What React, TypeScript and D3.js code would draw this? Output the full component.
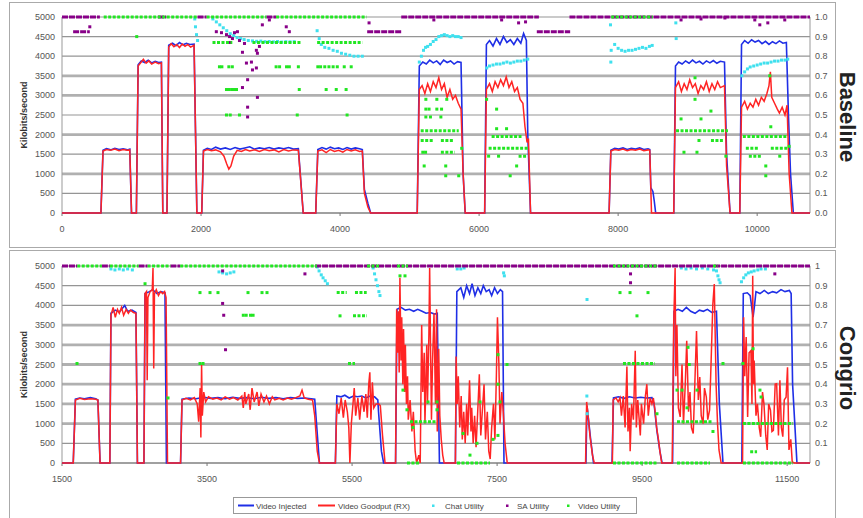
import React from 'react';
import * as d3 from 'd3';

type Pt = [number, number];
type Run = [number, number, number];

// ---------- Baseline (top) ----------
const baseInjected: Pt[] = [
  [0,0],[560,0],[590,1600],[640,1640],[700,1610],[760,1650],[820,1620],[880,1640],[940,1610],[975,1630],[1000,0],
  [1070,0],[1095,3780],[1140,3880],[1190,3840],[1240,3900],[1290,3830],[1340,3870],[1390,3840],[1430,3850],[1450,0],
  [1510,0],[1535,4280],[1590,4330],[1640,4270],[1690,4350],[1740,4290],[1790,4330],[1840,4300],[1900,4310],[1940,0],
  [2010,0],[2035,1600],[2090,1650],[2150,1620],[2210,1680],[2280,1630],[2350,1660],[2420,1620],[2490,1670],[2560,1630],[2630,1660],[2700,1690],[2770,1630],[2840,1660],[2910,1640],[2980,1670],[3050,1630],[3120,1660],[3190,1640],[3260,1670],[3330,1630],[3400,1640],[3470,0],
  [3650,0],[3680,1620],[3740,1670],[3800,1630],[3860,1680],[3920,1640],[3980,1660],[4040,1620],[4100,1670],[4160,1630],[4220,1660],[4280,1640],[4320,1620],[4350,600],[4400,250],[4440,0],
  [5110,0],[5140,3750],[5190,3850],[5240,3800],[5290,3900],[5340,3830],[5390,3880],[5440,3790],[5490,3900],[5540,3840],[5590,3880],[5640,3800],[5690,3860],[5740,3840],[5770,1000],[5800,0],
  [6080,0],[6105,4300],[6150,4400],[6200,4260],[6250,4450],[6300,4300],[6350,4500],[6400,4350],[6450,4420],[6500,4300],[6550,4450],[6600,4330],[6640,4580],[6680,4400],[6700,2000],[6740,0],
  [7870,0],[7895,1600],[7950,1650],[8010,1630],[8070,1660],[8130,1620],[8190,1650],[8250,1630],[8310,1660],[8370,1620],[8430,1640],[8455,1620],[8470,650],[8500,550],[8520,300],[8540,0],
  [8800,0],[8825,3750],[8870,3850],[8920,3800],[8970,3880],[9020,3820],[9070,3900],[9120,3830],[9170,3870],[9220,3800],[9270,3880],[9320,3830],[9370,3890],[9420,3820],[9470,3870],[9530,3850],[9560,1500],[9610,0],
  [9750,0],[9775,4300],[9820,4400],[9870,4330],[9920,4420],[9970,4360],[10020,4400],[10070,4320],[10120,4380],[10170,4300],[10220,4370],[10270,4320],[10320,4390],[10370,4330],[10420,4350],[10450,2500],[10480,1000],[10520,0],[10760,0],
];

const baseGoodput: Pt[] = [
  [0,0],[560,0],[590,1580],[640,1620],[700,1600],[760,1630],[820,1590],[880,1620],[940,1600],[975,1610],[1000,0],
  [1070,0],[1095,3750],[1140,3850],[1170,3920],[1210,3820],[1250,3880],[1290,3800],[1340,3850],[1390,3810],[1430,3830],[1450,0],
  [1510,0],[1535,4230],[1570,4320],[1610,4240],[1650,4300],[1690,4220],[1730,4310],[1770,4250],[1810,4300],[1850,4230],[1900,4280],[1940,0],
  [2010,0],[2035,1580],[2090,1620],[2150,1590],[2210,1610],[2280,1560],[2330,1450],[2370,1250],[2400,1120],[2430,1200],[2470,1450],[2520,1600],[2580,1570],[2640,1620],[2700,1580],[2770,1610],[2840,1570],[2910,1620],[2980,1590],[3050,1610],[3120,1560],[3190,1620],[3260,1580],[3330,1610],[3400,1600],[3470,0],
  [3650,0],[3680,1580],[3740,1610],[3800,1540],[3860,1620],[3920,1570],[3980,1600],[4040,1550],[4100,1620],[4160,1580],[4220,1610],[4280,1570],[4320,1580],[4350,500],[4400,150],[4440,0],
  [5110,0],[5140,3150],[5180,3250],[5220,3050],[5260,3300],[5300,3100],[5340,3350],[5380,3200],[5420,3450],[5460,3150],[5500,3300],[5540,2950],[5580,3150],[5620,2900],[5660,3000],[5700,2800],[5740,2650],[5770,1000],[5800,0],
  [6080,0],[6105,3150],[6150,3300],[6190,3100],[6230,3350],[6270,3200],[6310,3400],[6350,3250],[6390,3470],[6430,3200],[6470,3350],[6510,3100],[6550,3200],[6590,2900],[6630,2800],[6660,2200],[6690,1800],[6710,1900],[6740,0],
  [7870,0],[7895,1580],[7950,1620],[8010,1600],[8070,1630],[8130,1590],[8190,1620],[8250,1600],[8310,1630],[8370,1590],[8430,1610],[8455,1600],[8480,0],
  [8800,0],[8825,3200],[8870,3350],[8910,3100],[8950,3300],[8990,3150],[9030,3400],[9070,3200],[9110,3300],[9150,3050],[9190,3250],[9230,3150],[9270,3350],[9310,3100],[9350,3300],[9390,3150],[9430,3350],[9470,3200],[9530,3250],[9560,1200],[9610,0],
  [9750,0],[9775,2700],[9820,2850],[9860,2650],[9900,2800],[9940,2700],[9980,2900],[10020,2750],[10060,2950],[10100,2850],[10140,3050],[10170,3250],[10190,3600],[10210,2950],[10250,2800],[10290,2650],[10320,2550],[10360,2700],[10400,2500],[10430,2750],[10460,1000],[10500,0],[10760,0],
];

const baseChat: Pt[] = [
  [1910,0.99],[1920,0.95],[1935,0.91],[1950,0.88],
  [2170,0.99],[2220,0.975],[2270,0.96],[2320,0.945],[2370,0.93],[2420,0.915],[2470,0.905],[2520,0.895],[2570,0.89],[2620,0.885],[2680,0.88],[2740,0.878],[2800,0.876],[2860,0.877],[2920,0.874],[2980,0.875],[3040,0.873],[3100,0.875],[3160,0.872],[3220,0.874],[3280,0.873],[3340,0.874],
  [3670,0.93],[3700,0.89],[3730,0.86],[3780,0.845],[3840,0.84],[3900,0.83],[3960,0.825],[4020,0.815],[4080,0.81],[4140,0.805],[4200,0.80],[4260,0.80],[4320,0.80],
  [5140,0.77],[5170,0.80],[5200,0.83],[5230,0.845],[5260,0.85],[5300,0.86],[5340,0.875],[5380,0.885],[5420,0.90],[5460,0.905],[5500,0.91],[5540,0.905],[5580,0.90],[5620,0.905],[5660,0.90],[5700,0.90],[5740,0.895],
  [6110,0.74],[6150,0.75],[6200,0.755],[6250,0.76],[6300,0.76],[6350,0.765],[6400,0.77],[6450,0.765],[6500,0.77],[6550,0.775],[6600,0.775],[6650,0.78],[6700,0.785],
  [7890,0.96],[7895,0.77],[7900,0.83],[7950,0.86],[8000,0.84],[8050,0.83],[8100,0.825],[8150,0.83],[8200,0.83],[8250,0.835],[8300,0.84],[8350,0.845],[8400,0.84],[8450,0.85],[8490,0.855],
  [8830,0.97],[8835,0.89],
  [9780,0.70],[9820,0.72],[9860,0.735],[9900,0.745],[9950,0.75],[10000,0.755],[10050,0.76],[10100,0.765],[10150,0.765],[10200,0.77],[10250,0.775],[10300,0.775],[10350,0.78],[10400,0.78],[10440,0.785],
];

const baseSaRuns: Run[] = [
  [0,545,1.0],[1380,1500,1.0],[1950,2080,1.0],[2940,3080,1.0],[4880,6860,1.0],[7300,10760,1.0],
  [160,400,0.925],[4390,4880,0.925],[6830,7310,0.925],
];

const baseSa: Pt[] = [
  [400,0.95],[2220,0.925],[2294,0.92],[2366,0.91],[2410,0.90],[2452,0.89],[2481,0.92],[2524,0.925],[2553,0.88],[2410,0.87],[2625,0.865],[2796,0.83],[2811,0.815],
  [2596,0.82],[2653,0.765],[2725,0.77],[2740,0.73],[2796,0.74],[2670,0.68],[2596,0.64],[2811,0.59],[2670,0.54],[2670,0.49],[2840,0.85],[2882,0.96],[2983,0.985],[3226,0.95],[3270,0.925],
  [4417,0.97],[5349,0.985],[6324,0.985],[6568,0.97],[6668,0.975],
  [8905,0.985],[9192,0.99],[9536,0.995],[9966,0.985],[10038,0.96],[10153,0.97],[10397,0.985],
];

const baseVideoRuns: Run[] = [
  [600,1950,1.0],[2080,2940,1.0],[3080,4380,1.0],[7900,8500,1.0],
  [2165,2450,0.87],[2740,3440,0.87],[3670,4320,0.87],
  [5160,5707,0.42],[5160,5350,0.37],[5450,5640,0.37],[5450,5650,0.31],
  [6180,6610,0.39],[6137,6711,0.33],[6568,6690,0.29],
  [8833,9580,0.42],[9335,9507,0.37],
  [9794,10440,0.39],[9837,10010,0.33],[10196,10440,0.33],[9880,10060,0.29],
];

const baseVideo: Pt[] = [
  [1075,0.9],
  [2265,0.746],[2300,0.746],[2400,0.746],[2450,0.746],[3080,0.746],[3130,0.746],[3230,0.746],[3270,0.746],[3400,0.746],
  [3680,0.746],[3720,0.746],[3780,0.746],[3840,0.746],[3900,0.746],[3960,0.746],[4060,0.746],[4160,0.746],
  [2366,0.63],[2400,0.63],[2440,0.63],[2480,0.63],[2510,0.63],[3413,0.63],[3800,0.63],[3945,0.63],[4087,0.63],
  [2366,0.5],[2420,0.5],[2553,0.5],[3384,0.5],[4101,0.5],
  [5234,0.58],[5392,0.58],[5535,0.58],[5234,0.53],[5280,0.53],[5392,0.53],[5460,0.53],[5234,0.49],[5300,0.49],[5450,0.49],
  [5190,0.31],[5230,0.31],[5210,0.24],[5520,0.24],[5520,0.19],[5707,0.19],[5750,0.33],
  [6108,0.58],[6252,0.53],[6252,0.43],[6395,0.43],[6137,0.29],[6280,0.29],[6540,0.24],[6447,0.19],
  [9106,0.69],[9106,0.58],[9335,0.52],[8905,0.48],[9192,0.48],[9163,0.37],[8947,0.31],[9134,0.31],[9550,0.29],
  [10181,0.70],[10196,0.44],[10325,0.29],[10124,0.24],[10124,0.19],[10460,0.34],
];

// ---------- Congrio (bottom) ----------
const congInjected: Pt[] = [
  [1500,0],[1655,0],[1685,1620],[1745,1650],[1810,1630],[1890,1660],[1965,1630],[1995,1600],[2025,0],
  [2160,0],[2175,3800],[2235,3880],[2290,3830],[2365,4000],[2405,3850],[2465,3880],[2520,3820],[2540,0],
  [2630,0],[2645,4300],[2705,4350],[2750,4400],[2810,4300],[2865,4350],[2920,4320],[2940,0],
  [3135,0],[3155,1620],[3250,1650],[3350,1630],[3450,1670],[3550,1640],[3650,1660],[3750,1630],[3850,1670],[3950,1640],[4050,1660],[4150,1630],[4250,1670],[4350,1640],[4450,1660],[4550,1630],[4650,1660],[4750,1640],[4850,1650],[4985,1620],[5050,0],
  [5270,0],[5290,1700],[5350,1680],[5400,1720],[5460,1650],[5520,1700],[5575,1680],[5635,1700],[5690,1650],[5750,1700],[5810,1680],[5855,1600],[5865,1300],[5905,300],[5935,0],
  [6100,0],[6120,3900],[6175,3950],[6235,3880],[6290,3900],[6350,3850],[6405,3900],[6465,3850],[6520,3800],[6580,3820],[6640,3780],[6675,3800],[6705,0],
  [6925,0],[6945,4350],[7000,4450],[7040,4200],[7080,4500],[7120,4300],[7155,4550],[7195,4250],[7235,4450],[7275,4300],[7310,4500],[7350,4350],[7390,4400],[7425,4250],[7465,4450],[7505,4300],[7545,4400],[7575,4350],[7595,0],
  [8725,0],[8740,1450],[8755,1200],[8790,600],[8830,0],
  [9085,0],[9105,1650],[9175,1680],[9250,1640],[9325,1680],[9405,1650],[9480,1670],[9560,1650],[9635,1660],[9665,1500],[9705,800],[9745,300],[9775,0],
  [9920,0],[9940,3850],[9995,3900],[10055,3850],[10110,3950],[10170,3850],[10230,3800],[10290,3880],[10345,3850],[10400,3900],[10460,3820],[10525,3850],[10565,1500],[10615,0],
  [10875,0],[10895,4300],[10950,4320],[10990,4250],[11030,3700],[11050,4000],[11070,4350],[11125,4300],[11185,4380],[11240,4300],[11300,4350],[11355,4320],[11415,4400],[11470,4350],[11530,4380],[11555,4300],[11575,2000],[11605,1000],[11635,0],[11815,0],
];

const congGoodput: Pt[] = [
  [1500,0],[1655,0],[1685,1600],[1745,1640],[1810,1610],[1890,1630],[1965,1620],[1995,1600],[2025,0],
  [2160,0],[2175,3750],[2205,3950],[2235,3700],[2265,3900],[2290,3800],[2320,3950],[2350,3750],[2385,3900],[2415,3800],[2445,3880],[2485,3820],[2520,3800],[2540,0],
  [2630,0],[2645,4300],[2665,4350],[2675,2100],[2685,4200],[2715,4350],[2745,4400],[2755,4950],[2765,2400],[2775,4300],[2800,4400],[2830,4250],[2860,4350],[2890,4300],[2915,4350],[2935,4200],[2955,0],
  [3135,0],[3155,1600],[3210,1640],[3270,1600],[3325,1660],[3365,1500],[3385,1050],[3405,1900],[3415,650],[3425,2500],[3435,1200],[3455,1800],[3480,1550],[3520,1680],[3580,1620],[3635,1650],[3695,1600],[3750,1680],[3810,1620],[3865,1660],[3925,1600],[3980,1700],[4000,1400],[4020,1800],[4035,1500],[4075,1750],[4095,1350],[4120,1900],[4150,1550],[4190,1800],[4215,1450],[4245,1750],[4285,1550],[4320,1700],[4360,1500],[4400,1680],[4435,1600],[4495,1640],[4550,1600],[4610,1650],[4665,1620],[4725,1660],[4780,1700],[4810,1850],[4840,1650],[4895,1620],[4955,1600],[4985,1200],[5020,300],[5050,0],
  [5270,0],[5290,1500],[5320,1250],[5350,1650],[5380,1150],[5405,1600],[5435,1300],[5455,900],[5470,0],[5490,1000],[5515,1550],[5530,1900],[5550,1200],[5580,1650],[5605,1100],[5635,1700],[5665,1300],[5690,1750],[5710,1150],[5730,2000],[5745,2300],[5760,1100],[5780,2050],[5800,1400],[5830,1500],[5870,1500],[5890,1450],[5920,700],[5955,0],
  [6100,0],[6115,3900],[6130,2800],[6140,3850],[6150,2300],[6160,4700],[6175,2600],[6185,3700],[6200,2000],[6210,3400],[6225,1800],[6235,3000],[6250,1500],[6265,2200],[6275,1100],[6300,1600],[6325,800],[6345,1300],[6370,300],[6390,0],[6420,200],[6440,0],[6460,3500],[6475,1800],[6495,2800],[6505,1000],[6530,3000],[6540,1500],[6560,3300],[6570,4950],[6585,2500],[6595,1100],[6610,2600],[6630,3800],[6650,1500],[6665,3900],[6675,800],[6695,2900],[6710,1200],[6730,600],[6750,200],[6770,0],
  [6925,0],[6935,2700],[6950,1500],[6965,2200],[6985,900],[7005,1700],[7020,600],[7040,1300],[7060,500],[7080,1500],[7095,700],[7120,2100],[7140,800],[7150,1400],[7170,500],[7190,1200],[7210,400],[7240,1600],[7255,2250],[7275,700],[7320,2000],[7340,600],[7365,1300],[7385,300],[7405,100],[7425,900],[7450,1500],[7470,600],[7490,2200],[7505,3700],[7525,2500],[7540,1000],[7565,1800],[7585,1300],[7610,500],[7640,0],
  [8720,0],[8735,1550],[8750,1300],[8780,700],[8815,200],[8840,0],
  [9090,0],[9100,1600],[9140,1650],[9170,1550],[9195,1650],[9215,1200],[9240,1700],[9265,900],[9290,2450],[9305,800],[9325,1400],[9335,300],[9355,1500],[9380,1100],[9405,2850],[9420,900],[9440,1600],[9475,700],[9490,1500],[9520,1000],[9545,1700],[9565,2000],[9585,1200],[9610,1650],[9635,1500],[9655,1650],[9680,1300],[9700,900],[9725,600],[9745,300],[9770,0],
  [9915,0],[9935,3500],[9955,4950],[9965,2200],[9980,3500],[10000,1400],[10025,1170],[10050,2500],[10070,1000],[10095,2000],[10115,3100],[10140,1300],[10160,1800],[10180,900],[10205,750],[10230,2200],[10250,3350],[10275,1600],[10295,2180],[10315,1200],[10340,1000],[10360,1900],[10385,1680],[10405,1100],[10430,1340],[10450,2500],[10475,4030],[10495,4540],[10520,2000],[10540,1000],[10560,330],[10590,0],
  [10885,0],[10900,3700],[10915,2200],[10935,3200],[10955,1170],[10975,2800],[11000,2850],[11015,1500],[11025,4750],[11035,2000],[11045,2600],[11070,1200],[11090,1500],[11115,900],[11135,665],[11160,1800],[11180,1500],[11205,700],[11225,330],[11245,1500],[11270,1340],[11290,800],[11310,830],[11335,2000],[11355,2010],[11380,700],[11400,2100],[11420,900],[11440,670],[11460,1600],[11485,1670],[11505,2430],[11525,330],[11550,600],[11570,30],[11600,0],[11815,0],
];

const congChat: Pt[] = [
  [2175,0.985],[2230,0.98],[2290,0.985],[2345,0.98],[2405,0.985],[2470,0.98],
  [3665,0.97],[3715,0.965],[3770,0.96],[3820,0.965],[3870,0.97],
  [5020,0.995],[5045,0.975],[5075,0.955],[5100,0.94],[5130,0.925],[5160,0.91],
  [5790,0.99],[5810,0.96],[5830,0.93],[5850,0.90],[5870,0.87],[5885,0.85],
  [6950,0.985],[7000,0.985],[7045,0.99],[7590,0.965],[7600,0.95],
  [8740,0.83],[8738,0.34],[8742,0.25],
  [10040,0.99],[10105,0.985],[10175,0.99],[10250,0.985],[10330,0.99],[10405,0.985],[10485,0.98],[10525,0.975],[10545,0.95],[10560,0.93],[10575,0.915],
  [10870,0.92],[10900,0.94],[10930,0.955],[10965,0.965],[11005,0.97],[11045,0.975],[11095,0.98],[11140,0.985],[11200,0.985],
];

const congSaRuns: Run[] = [
  [1500,1710,1.0],[2050,2160,1.0],[2555,2680,1.0],[2995,3130,1.0],[4990,11815,1.0],
];

const congSa: Pt[] = [
  [3715,0.975],[3715,0.81],[3730,0.75],[3755,0.575],[4850,0.96],[9340,0.96],[9340,0.915],[11330,0.96],
];

const congVideoRuns: Run[] = [
  [1710,2050,1.0],[2160,2555,1.0],[2680,2995,1.0],[3130,5016,1.0],[5706,5885,1.0],[6120,6271,1.0],[9098,9705,1.0],[10477,10546,1.0],
  [6257,6437,0],[6947,7402,0],[9098,9705,0],[9981,10436,0],[10890,11580,0],
  [5288,5426,0.865],[5540,5702,0.865],[5513,5706,0.747],[5444,5540,0.505],
  [6299,6671,0.21],[9236,9677,0.505],[9981,10477,0.21],[10890,11580,0.2],[10990,11085,0.057],
];

const congVideo: Pt[] = [
  [1707,0.505],[3403,0.505],[3445,0.505],[2962,0.33],[2645,0.91],
  [3403,0.865],[3541,0.865],[3651,0.865],[4065,0.865],[4258,0.865],[4327,0.865],
  [4000,0.75],[4040,0.75],[4100,0.75],[4135,0.75],[5334,0.747],
  [6161,0.95],[6230,0.95],[6202,0.37],[6257,0.27],[6547,0.31],[6671,0.31],[6671,0.27],[6340,0.18],
  [7030,0.15],[7126,0.04],[7223,0.1],[7265,0.31],[7444,0.12],[7512,0.55],[7512,0.4],[7540,0.31],[7637,0.5],[7512,0.14],
  [9195,0.865],[9333,0.865],[9581,0.865],[9429,0.747],[9705,0.25],
  [9981,0.37],[10257,0.37],[10050,0.37],[10133,0.587],[10150,0.5],[10615,0.505],[10477,0.16],[10119,0.28],
  [11125,0.37],[11030,0.58],[11140,0.335],[10890,0.505],
];

// ---------- axes & labels ----------
const leftTicks = [0, 500, 1000, 1500, 2000, 2500, 3000, 3500, 4000, 4500, 5000];
const baseXTicks = [0, 2000, 4000, 6000, 8000, 10000];
const congXTicks = [1500, 3500, 5500, 7500, 9500, 11500];
const baseRightLabels = ['0.0', '0.1', '0.2', '0.3', '0.4', '0.5', '0.6', '0.7', '0.8', '0.9', '1.0'];
const congRightLabels = ['0', '0.1', '0.2', '0.3', '0.4', '0.5', '0.6', '0.7', '0.8', '0.9', '1'];
const legendNames = ['Video Injected', 'Video Goodput (RX)', 'Chat Utility', 'SA Utility', 'Video Utility'];

const C_BLUE = '#1f2fe6';
const C_RED = '#ff2424';
const C_CYAN = '#3fe0ee';
const C_PURPLE = '#880088';
const C_GREEN = '#22e622';
const FONT = '"Liberation Sans", Arial, sans-serif';

interface PanelProps {
  y0: number;
  y1: number;
  xDomain: [number, number];
  xTicks: number[];
  rightLabels: string[];
  thick: number[];
  injected: Pt[];
  goodput: Pt[];
  chat: Pt[];
  saRuns: Run[];
  sa: Pt[];
  videoRuns: Run[];
  video: Pt[];
  name: string;
  nameY: number;
}

const PL = 62;
const PR = 810;

function Panel(p: PanelProps) {
  const x = d3.scaleLinear().domain(p.xDomain).range([PL, PR]);
  const yL = d3.scaleLinear().domain([0, 5000]).range([p.y0, p.y1]);
  const yR = d3.scaleLinear().domain([0, 1]).range([p.y0, p.y1]);
  const line = d3.line<Pt>().x(d => x(d[0])).y(d => yL(d[1]));
  const mid = (p.y0 + p.y1) / 2;

  const dots = (pts: Pt[], color: string, key: string) =>
    pts.map((d, i) => (
      <rect key={key + i} x={x(d[0]) - 1.5} y={yR(d[1]) - 1.5} width={3} height={3} fill={color} />
    ));
  const runs = (rs: Run[], color: string, key: string, dash: string) =>
    rs.map((r, i) => (
      <line key={key + i} x1={x(r[0])} x2={x(r[1])} y1={yR(r[2])} y2={yR(r[2])}
        stroke={color} strokeWidth={3} strokeDasharray={dash} />
    ));

  return (
    <g>
      {/* gridlines */}
      {leftTicks.map(t => (
        <line key={'g' + t} x1={PL} x2={PR} y1={yL(t)} y2={yL(t)}
          stroke={p.thick.includes(t) ? '#b0b0b0' : '#959595'}
          strokeWidth={p.thick.includes(t) ? 2.8 : 1.2} />
      ))}
      <line x1={PL} x2={PL} y1={p.y0} y2={p.y1} stroke="#999" />
      <line x1={PR} x2={PR} y1={p.y0} y2={p.y1} stroke="#999" />
      <line x1={PL} x2={PR} y1={p.y0} y2={p.y0} stroke="#777" />
      {p.xTicks.map(t => (
        <g key={'xt' + t}>
          <line x1={x(t)} x2={x(t)} y1={p.y0} y2={p.y0 + 3} stroke="#777" />
          <text x={x(t)} y={p.y0 + 19} textAnchor="middle" fontSize={9} fill="#555" fontFamily={FONT}>{t}</text>
        </g>
      ))}
      {leftTicks.map(t => (
        <text key={'yl' + t} x={55} y={yL(t) + 3} textAnchor="end" fontSize={9} fill="#555" fontFamily={FONT}>{t}</text>
      ))}
      {p.rightLabels.map((s, i) => (
        <text key={'yr' + i} x={815} y={yR(i / 10) + 3} fontSize={9} fill="#555" fontFamily={FONT}>{s}</text>
      ))}
      <text transform={`translate(27,${mid}) rotate(-90)`} textAnchor="middle" fontSize={9}
        fontWeight="bold" fill="#333" fontFamily={FONT}>Kilobits/second</text>
      <text transform={`translate(840,${p.nameY}) rotate(90)`} textAnchor="middle" fontSize={22}
        fontWeight="bold" fill="#222" fontFamily={FONT}>{p.name}</text>

      {/* series */}
      <path d={line(p.injected) || ''} fill="none" stroke={C_BLUE} strokeWidth={1.6} />
      <path d={line(p.goodput) || ''} fill="none" stroke={C_RED} strokeWidth={1.5} />
      {dots(p.chat, C_CYAN, 'c')}
      {runs(p.saRuns, C_PURPLE, 'sr', '6 1')}
      {dots(p.sa, C_PURPLE, 's')}
      {runs(p.videoRuns, C_GREEN, 'vr', '3 1.5')}
      {dots(p.video, C_GREEN, 'v')}
    </g>
  );
}

export default function App() {
  return (
    <svg width={863} height={518} style={{ position: 'absolute', left: 0, top: 0, background: '#fff' }}>
      <rect x={0} y={0} width={863} height={518} fill="#fff" />
      <rect x={9.5} y={2.5} width={826} height={245} fill="none" stroke="#aaa" />
      <rect x={9.5} y={250.5} width={826} height={280} fill="none" stroke="#aaa" />
      <Panel y0={213} y1={17} xDomain={[0, 10760]} xTicks={baseXTicks} rightLabels={baseRightLabels}
        thick={[3500, 3000, 2000, 1000]} injected={baseInjected} goodput={baseGoodput} chat={baseChat}
        saRuns={baseSaRuns} sa={baseSa} videoRuns={baseVideoRuns} video={baseVideo} name="Baseline" nameY={117} />
      <Panel y0={463} y1={266} xDomain={[1500, 11815]} xTicks={congXTicks} rightLabels={congRightLabels}
        thick={[3500, 3000, 2500, 2000, 1500, 1000]} injected={congInjected} goodput={congGoodput} chat={congChat}
        saRuns={congSaRuns} sa={congSa} videoRuns={congVideoRuns} video={congVideo} name="Congrio" nameY={368} />

      {/* legend */}
      <g fontFamily={FONT} fontSize={8} fill="#444">
        <rect x={233.5} y={497.5} width={403} height={16} fill="#fff" stroke="#999" />
        <line x1={238} x2={254} y1={505.5} y2={505.5} stroke={C_BLUE} strokeWidth={2} />
        <text x={256} y={508.5}>{legendNames[0]}</text>
        <line x1={318} x2={335} y1={505.5} y2={505.5} stroke={C_RED} strokeWidth={2} />
        <text x={338} y={508.5}>{legendNames[1]}</text>
        <rect x={432} y={504.5} width={2.5} height={2.5} fill={C_CYAN} />
        <text x={445} y={508.5}>{legendNames[2]}</text>
        <rect x={506} y={504.5} width={2.5} height={2.5} fill={C_PURPLE} />
        <text x={517} y={508.5}>{legendNames[3]}</text>
        <rect x={567} y={504.5} width={2.5} height={2.5} fill={C_GREEN} />
        <text x={578} y={508.5}>{legendNames[4]}</text>
      </g>
    </svg>
  );
}
